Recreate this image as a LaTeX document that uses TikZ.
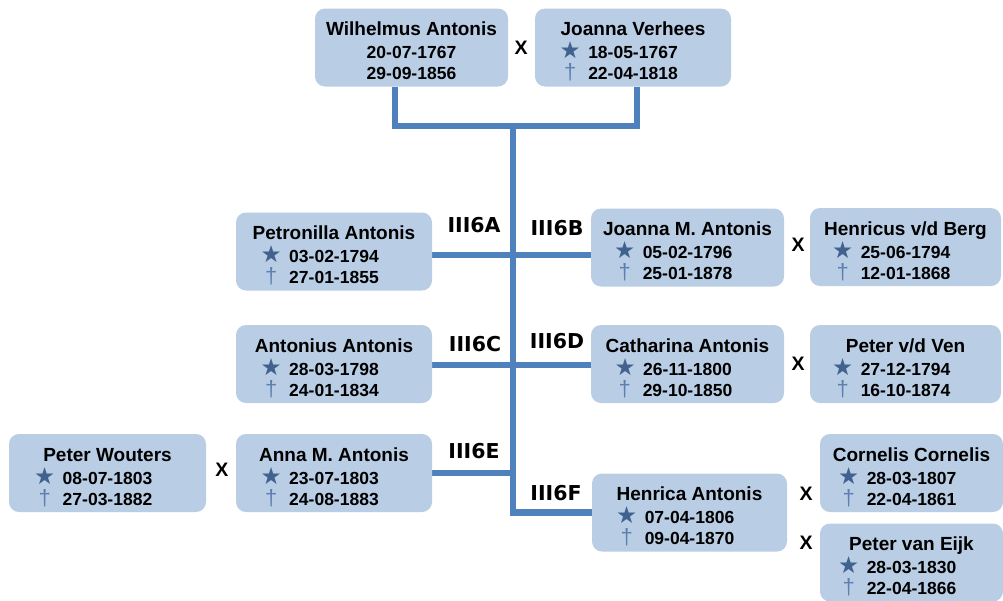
\documentclass[tikz,border=0pt]{standalone}
\usepackage{fontspec}
\setmainfont{Liberation Sans}
\newfontfamily\djv{DejaVu Sans}
\usetikzlibrary{backgrounds}
\definecolor{boxfill}{HTML}{B9CDE5}
\definecolor{linecol}{HTML}{4F81BD}
\definecolor{starcol}{HTML}{41628F}
\definecolor{crosscol}{HTML}{5B7FAE}
\newcommand\stsym{\llap{\makebox[22pt][c]{\color{starcol}\djv\mdseries\fontsize{23.5}{23.5}\selectfont ★}\hspace{7pt}}}
\newcommand\dgsym{\llap{\makebox[22pt][c]{\color{crosscol}\mdseries\fontsize{22}{22}\selectfont †}\hspace{7pt}}}
\tikzset{
  pbox/.style={fill=boxfill, rounded corners=10pt, minimum height=78pt, inner sep=0pt},
  nametxt/.style={font=\fontsize{19}{19}\selectfont\bfseries, inner sep=0pt, anchor=base},
  datetxt/.style={font=\fontsize{17.5}{17.5}\selectfont\bfseries, inner sep=0pt, anchor=base},
  gen/.style={font=\djv\bfseries\fontsize{20.5}{20.5}\selectfont, inner sep=0pt},
  marr/.style={font=\fontsize{19.5}{19.5}\selectfont\bfseries, inner sep=0pt},
  conn/.style={draw=linecol, line width=6.5pt},
}
\newcommand\person[7]{%
  \node[pbox, minimum width=#4pt] (#1) at (#2,#3) {};
  \node[nametxt] (#1-n) at ([yshift=12pt]#1.center) {#5};
  \node[datetxt] (#1-b) at ([yshift=-11pt]#1.center) {\stsym#6};
  \node[datetxt] (#1-d) at ([yshift=-32pt]#1.center) {\dgsym#7};
}
\newcommand\personplain[7]{%
  \node[pbox, minimum width=#4pt] (#1) at (#2,#3) {};
  \node[nametxt] (#1-n) at ([yshift=12pt]#1.center) {#5};
  \node[datetxt] (#1-b) at ([yshift=-11pt]#1.center) {#6};
  \node[datetxt] (#1-d) at ([yshift=-32pt]#1.center) {#7};
}
\begin{document}
\begin{tikzpicture}[x=1pt,y=-1pt]
\useasboundingbox (0,0) rectangle (1003,600);
\clip (0,0) rectangle (1003,600);
% persons
\personplain{wa}{411.5}{47.5}{193}{Wilhelmus Antonis}{20-07-1767}{29-09-1856}
\person{jv}{633}{47.5}{196}{Joanna Verhees}{18-05-1767}{22-04-1818}
\person{pa}{334}{251.5}{196}{Petronilla Antonis}{03-02-1794}{27-01-1855}
\person{jm}{687.5}{247.5}{193}{Joanna M. Antonis}{05-02-1796}{25-01-1878}
\person{hb}{905.5}{247}{191}{Henricus v/d Berg}{25-06-1794}{12-01-1868}
\person{aa}{334}{364}{196}{Antonius Antonis}{28-03-1798}{24-01-1834}
\person{ca}{687.5}{364}{193}{Catharina Antonis}{26-11-1800}{29-10-1850}
\person{pv}{905.5}{364}{191}{Peter v/d Ven}{27-12-1794}{16-10-1874}
\person{pw}{107.5}{473}{197}{Peter Wouters}{08-07-1803}{27-03-1882}
\person{am}{334}{473}{196}{Anna M. Antonis}{23-07-1803}{24-08-1883}
\person{ha}{689.5}{512.5}{195}{Henrica Antonis}{07-04-1806}{09-04-1870}
\person{cc}{911.5}{473}{183}{Cornelis Cornelis}{28-03-1807}{22-04-1861}
\person{pe}{911.5}{562.5}{183}{Peter van Eijk}{28-03-1830}{22-04-1866}
% marriage marks
\node[marr] (x1) at (521,48) {X};
\node[marr] (x2) at (798,245) {X};
\node[marr] (x3) at (798,364) {X};
\node[marr] (x4) at (222,470) {X};
\node[marr] (x5) at (806,494) {X};
\node[marr] (x6) at (806,543) {X};
% generation labels
\node[gen] (gA) at (474,225) {III6A};
\node[gen] (gB) at (557,228) {III6B};
\node[gen] (gC) at (475,344) {III6C};
\node[gen] (gD) at (557,341) {III6D};
\node[gen] (gE) at (474,451) {III6E};
\node[gen] (gF) at (556,493) {III6F};
% connectors
\coordinate (t1) at (513,126);
\coordinate (yA) at (513,255);
\coordinate (yC) at (513,365);
\coordinate (tE) at (513,473);
\begin{scope}[on background layer]
\draw[conn] ([xshift=-16.5pt]wa.south) -- ++(0,39.5) -| ([xshift=4pt]jv.south);
\draw[conn] (t1) |- (ha.west);
\draw[conn] (pa.east |- yA) -- (jm.west |- yA);
\draw[conn] (aa.east |- yC) -- (ca.west |- yC);
\draw[conn] (am.east |- tE) -- (tE);
\end{scope}
\end{tikzpicture}
\end{document}
